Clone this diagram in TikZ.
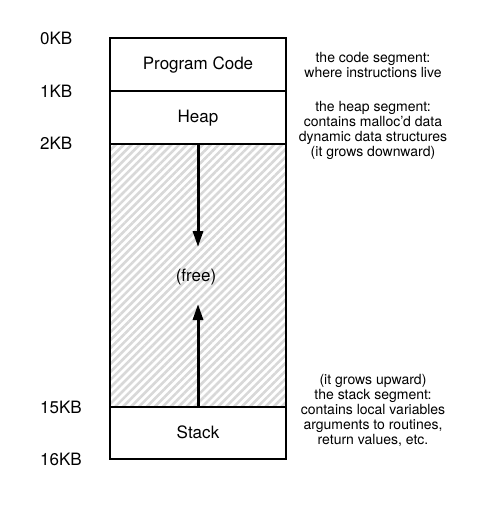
\documentclass[tikz,border=0pt]{standalone}
\usepackage{fontspec}
\setmainfont{TeX Gyre Heros}
\usetikzlibrary{arrows.meta, patterns.meta, positioning}
\definecolor{hatchGrey}{RGB}{216, 216, 216}

\begin{document}
\begin{tikzpicture} [
        x=1pt, y=-1pt,
        seg/.style={draw, line width=1.7pt, minimum width=176pt, inner sep=0pt, font=\fontsize{17}{20}\selectfont},
        kb/.style={anchor=west, inner sep=0pt, font=\fontsize{17}{20}\selectfont},
        note/.style={align=center, inner sep=0pt, font=\fontsize{14}{15}\selectfont},
        growarrow/.style={line width=3pt, -{Triangle[length=16pt, width=10pt]}}
    ]
        \useasboundingbox (0, 0) rectangle (481, 506);

        % SEGMENTS
        \node [seg, minimum height=263.6pt, pattern={Lines[angle=45, distance=5.6pt, line width=2.6pt]}, pattern color=hatchGrey] (free) at (198, 275.5) {};
        \node [seg, minimum height=52.7pt, fill=white, text depth=2pt] (code) at (198, 64.6) {Program Code};
        \node [seg, minimum height=52.7pt, fill=white, text depth=2pt] (heap) at (198, 117.4) {Heap};
        \node [seg, minimum height=52pt, fill=white, text depth=2pt] (stack) at (198, 433.3) {Stack};
        \node [font=\fontsize{17}{20}\selectfont, inner sep=0pt] (freelabel) at (196, 277) {(free)};

        % ADDRESSES
        \foreach \y/\t in {38.3/0KB, 91/1KB, 143.7/2KB, 407.3/15KB, 459.3/16KB} {
            \node [kb] (kb\t) at (40, \y) {\t};
        }

        % GROWTH
        \coordinate (heaptip) at (198, 247);
        \coordinate (stacktip) at (198, 304);
        \draw [growarrow] (heap.south) -- (heaptip);
        \draw [growarrow] (stack.north) -- (stacktip);

        % NOTES
        \node [note] (codenote) at (373, 65) {the code segment:\\where instructions live};
        \node [note] (heapnote) at (373, 130) {the heap segment:\\contains malloc'd data\\dynamic data structures\\(it grows downward)};
        \node [note] (stacknote) at (373, 410.7) {(it grows upward)\\the stack segment:\\contains local variables\\arguments to routines,\\return values, etc.};
    \end{tikzpicture}
\end{document}
